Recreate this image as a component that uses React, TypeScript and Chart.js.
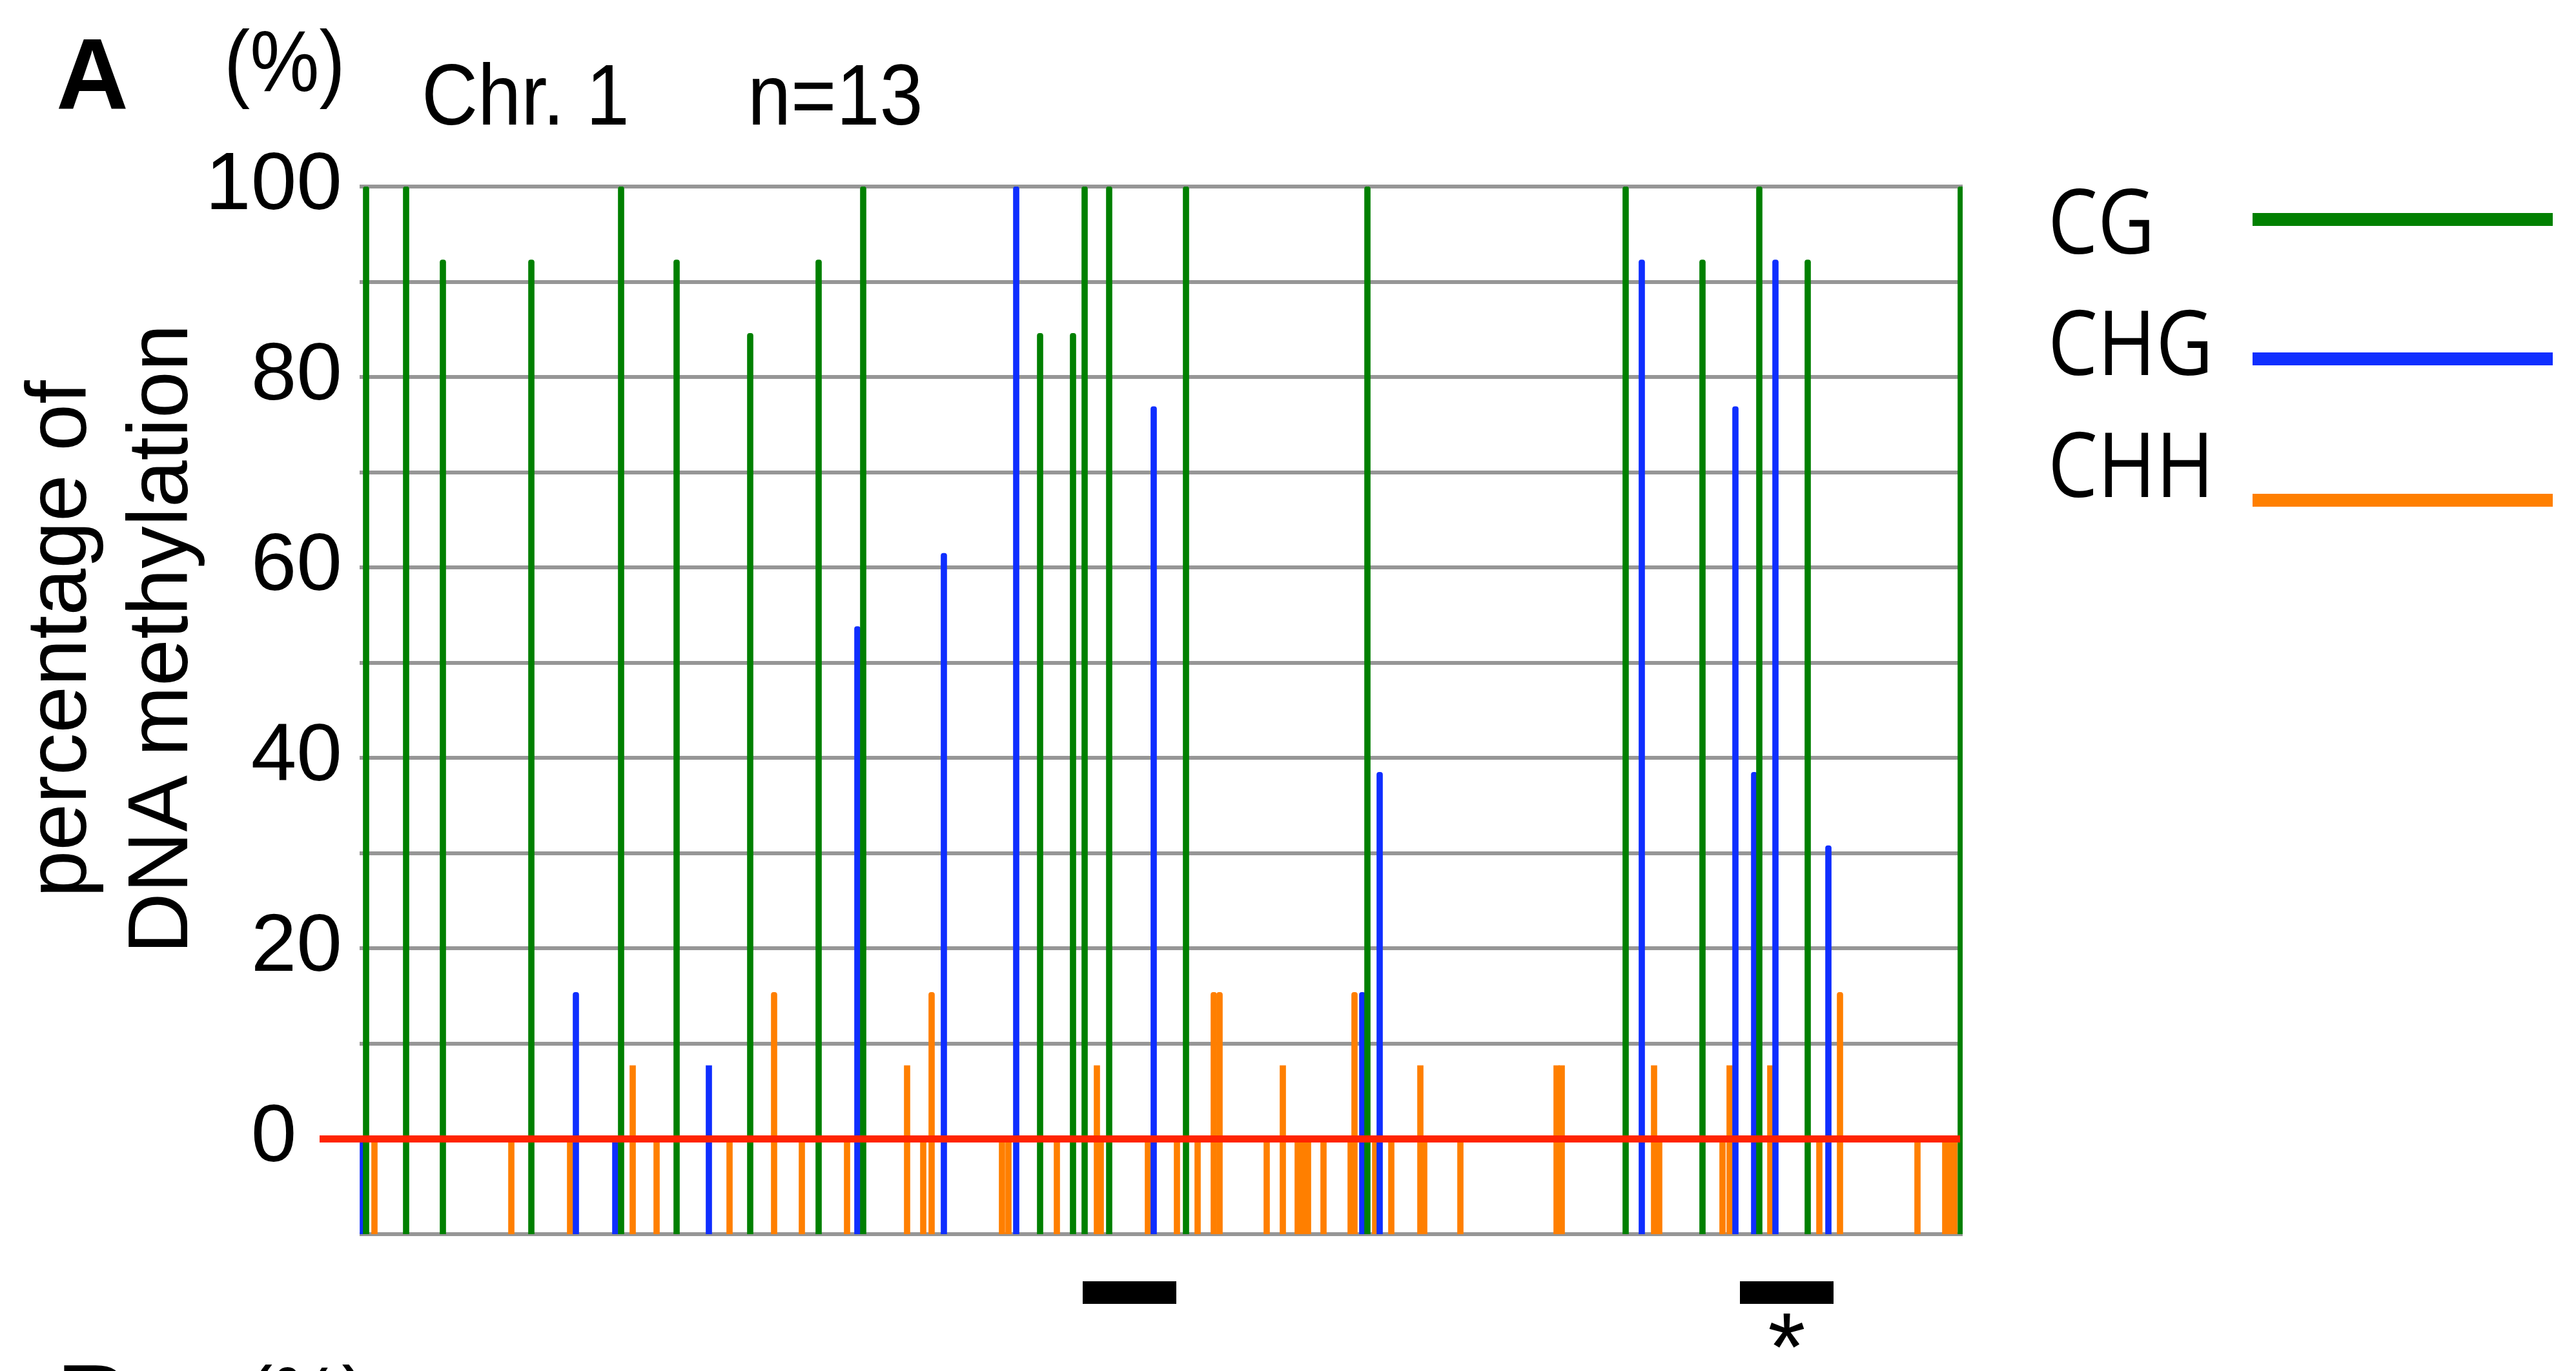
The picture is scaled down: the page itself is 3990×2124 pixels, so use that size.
import React, { useEffect, useRef } from 'react';
import { Chart, registerables } from 'chart.js';

Chart.register(...registerables);

// Positions along the analysed region (arbitrary sequence units, 0..2483)
const cgPositions = [10, 72, 129, 266, 405, 491, 605, 711, 780, 1054, 1105, 1123, 1161, 1280, 1561, 1961, 2080, 2168, 2243, 2480];
const cgValues = [100, 100, 92.3, 92.3, 100, 92.3, 84.6, 92.3, 100, 84.6, 84.6, 100, 100, 100, 100, 100, 92.3, 100, 92.3, 100];

const chgPositions = [5, 335, 396, 541, 771, 905, 1017, 1230, 1553, 1580, 1986, 2131, 2160, 2193, 2275];
const chgValues = [0, 15.4, 0, 7.7, 53.8, 61.5, 100, 76.9, 15.4, 38.5, 92.3, 76.9, 38.5, 92.3, 30.8];

const chhPositions = [23, 235, 326, 423, 460, 573, 642, 685, 755, 848, 873, 886, 995, 1005, 1080, 1142, 1148, 1221, 1266, 1298, 1323, 1332, 1405, 1430, 1453, 1461, 1469, 1493, 1535, 1541, 1573, 1598, 1643, 1649, 1705, 1854, 1862, 2005, 2013, 2111, 2122, 2185, 2261, 2293, 2413, 2456, 2463, 2470];
const chhValues = [0, 0, 0, 7.7, 0, 0, 15.4, 0, 0, 7.7, 0, 15.4, 0, 0, 0, 7.7, 0, 0, 0, 0, 15.4, 15.4, 0, 7.7, 0, 0, 0, 0, 0, 15.4, 0, 0, 7.7, 0, 0, 7.7, 7.7, 7.7, 0, 0, 7.7, 7.7, 0, 15.4, 0, 0, 0, 0];

const seriesNames = ['CG', 'CHG', 'CHH'];
const seriesColors = ['#008000', '#0f2eff', '#ff7f00'];
const yLabelTicks = [0, 20, 40, 60, 80, 100];
const yMin = -10;
const yMax = 100;
const xMin = 0;
const xMax = 2483;

const regionStarts = [1120, 2138];
const regionEnds = [1265, 2283];
const regionMarks = ['', '*'];

const RED = '#ff2400';
const SANS = "'Liberation Sans', Arial, Helvetica, sans-serif";

const overlayPlugin = {
  id: 'overlay',
  afterDatasetsDraw(chart: any) {
    const { ctx, chartArea, scales } = chart;
    const y0 = scales.y.getPixelForValue(0);
    ctx.save();
    ctx.strokeStyle = RED;
    ctx.lineWidth = 11;
    ctx.beginPath();
    ctx.moveTo(chartArea.left - 62, y0);
    ctx.lineTo(chartArea.right - 4, y0);
    ctx.stroke();
    ctx.fillStyle = '#000';
    regionStarts.forEach((s, i) => {
      const x1 = scales.x.getPixelForValue(s);
      const x2 = scales.x.getPixelForValue(regionEnds[i]);
      ctx.fillRect(x1, chartArea.bottom + 73, x2 - x1, 35);
      if (regionMarks[i]) {
        ctx.font = `150px ${SANS}`;
        ctx.textAlign = 'center';
        ctx.textBaseline = 'alphabetic';
        ctx.fillText(regionMarks[i], (x1 + x2) / 2, chartArea.bottom + 227);
      }
    });
    ctx.restore();
  },
};

function makeData(pos: number[], vals: number[]) {
  return pos.map((p, i) => ({ x: p, y: [yMin, vals[i]] }));
}

const textBase: React.CSSProperties = {
  position: 'absolute',
  whiteSpace: 'nowrap',
  color: '#000',
  transformOrigin: 'left top',
};

export default function App() {
  const ref = useRef<HTMLCanvasElement>(null);

  useEffect(() => {
    const allPos = [cgPositions, chgPositions, chhPositions];
    const allVals = [cgValues, chgValues, chhValues];
    const chart = new Chart(ref.current as HTMLCanvasElement, {
      type: 'bar',
      data: {
        datasets: seriesNames.map((name, i) => ({
          label: name,
          data: makeData(allPos[i], allVals[i]) as any,
          backgroundColor: seriesColors[i],
          borderWidth: 0,
          barThickness: 9,
          grouped: false,
          borderRadius: { topLeft: 4, topRight: 4, bottomLeft: 0, bottomRight: 0 },
        })) as any,
      },
      options: {
        responsive: false,
        devicePixelRatio: 1,
        animation: false,
        layout: { padding: { left: 0, right: 950, top: 289, bottom: 212 } },
        plugins: { legend: { display: false }, tooltip: { enabled: false } },
        scales: {
          x: { type: 'linear', min: xMin, max: xMax, display: false, offset: false },
          y: {
            type: 'linear',
            min: yMin,
            max: yMax,
            afterFit: (s: any) => { s.width = 557; },
            border: { display: false },
            grid: { color: '#969696', lineWidth: 6, drawTicks: false },
            ticks: {
              stepSize: 10,
              autoSkip: false,
              padding: 27,
              color: '#000',
              font: { family: SANS, size: 127 },
              callback: (v: any) => {
                const n = Number(v);
                if (!yLabelTicks.includes(n)) return '';
                return n === 0 ? '0  ' : String(n);
              },
            },
          },
        } as any,
      },
      plugins: [overlayPlugin],
    });
    return () => chart.destroy();
  }, []);

  return (
    <div style={{ position: 'fixed', left: 0, top: 0, width: 3990, height: 2124, background: '#fff', overflow: 'hidden' }}>
      <canvas ref={ref} width={3990} height={2124} style={{ position: 'absolute', left: 0, top: 0, width: 3990, height: 2124 }} />
      <div style={{ ...textBase, left: 87, top: 37, fontFamily: SANS, fontWeight: 'bold', fontSize: 155, lineHeight: '155px' }}>A</div>
      <div style={{ ...textBase, left: 347, top: 28, fontFamily: SANS, fontSize: 134, lineHeight: '134px', transform: 'scaleX(0.9)' }}>(%)</div>
      <div style={{ ...textBase, left: 653, top: 80, fontFamily: SANS, fontSize: 134, lineHeight: '134px', transform: 'scaleX(0.9)' }}>Chr. 1</div>
      <div style={{ ...textBase, left: 1158, top: 80, fontFamily: SANS, fontSize: 134, lineHeight: '134px', transform: 'scaleX(0.9)' }}>n=13</div>
      <div style={{
        position: 'absolute', left: 166 - 600, top: 990 - 157, width: 1200, height: 314,
        transform: 'rotate(-90deg)', transformOrigin: 'center center', textAlign: 'center',
        fontFamily: SANS, fontSize: 131, lineHeight: '157px', color: '#000', whiteSpace: 'nowrap',
      }}>
        <div>percentage of</div>
        <div>DNA methylation</div>
      </div>
      {seriesNames.map((name, i) => (
        <React.Fragment key={name}>
          <div style={{ ...textBase, left: 3172, top: [270, 458, 647][i], fontFamily: "'Open Sans', sans-serif", fontSize: 139, lineHeight: '139px', transform: 'scaleX(0.88)' }}>{name}</div>
          <div style={{ position: 'absolute', left: 3489, width: 465, top: [340, 556, 775][i] - 10, height: 20, background: seriesColors[i] }} />
        </React.Fragment>
      ))}
      <div style={{ ...textBase, left: 89, top: 2092, fontFamily: SANS, fontWeight: 'bold', fontSize: 155, lineHeight: '155px' }}>B</div>
      <div style={{ ...textBase, left: 382, top: 2098, fontFamily: SANS, fontSize: 134, lineHeight: '134px', transform: 'scaleX(0.9)' }}>(%)</div>
    </div>
  );
}
